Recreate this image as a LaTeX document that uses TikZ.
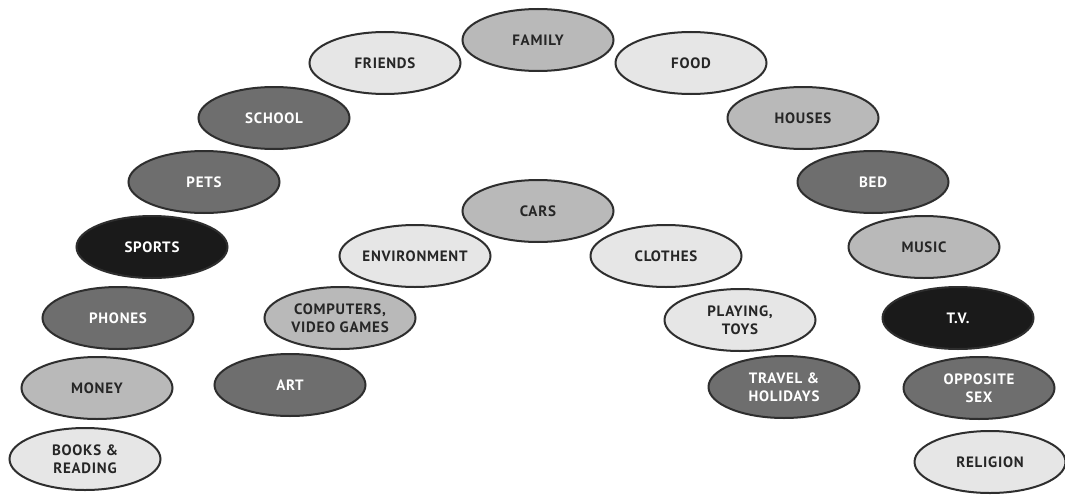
\documentclass[tikz,border=0pt]{standalone}
\usepackage{fontspec}
\setmainfont{PT Sans}[LetterSpace=5]
\usetikzlibrary{shapes.geometric}
\definecolor{cA}{HTML}{E6E6E6}
\definecolor{cB}{HTML}{B9B9B9}
\definecolor{cC}{HTML}{6E6E6E}
\definecolor{cD}{HTML}{1A1A1A}
\definecolor{edge}{HTML}{2E2E2E}
\tikzset{
  bub/.style={ellipse, draw=edge, line width=2pt, minimum width=151pt, minimum height=62pt,
    inner sep=0pt, align=center, font=\fontsize{15}{18}\selectfont\bfseries},
  lightb/.style={bub, fill=cA, text=black!85},
  midb/.style={bub, fill=cB, text=black!85},
  darkb/.style={bub, fill=cC, text=white},
  blackb/.style={bub, fill=cD, text=white}
}
\begin{document}
\begin{tikzpicture}[x=1pt,y=-1pt]
\useasboundingbox (0,0) rectangle (1065,495);
\node[midb]   (family)  at (538,40)  {FAMILY};
\node[lightb] (friends) at (385,63)  {FRIENDS};
\node[lightb] (food)    at (691,63)  {FOOD};
\node[darkb]  (school)  at (274,118) {SCHOOL};
\node[midb]   (houses)  at (803,118) {HOUSES};
\node[darkb]  (pets)    at (204,182) {PETS};
\node[darkb]  (bed)     at (873,182) {BED};
\node[blackb] (sports)  at (152,247) {SPORTS};
\node[midb]   (music)   at (924,247) {MUSIC};
\node[darkb]  (phones)  at (118,318) {PHONES};
\node[blackb] (tv)      at (958,318) {T.V.};
\node[midb]   (money)   at (97,388)  {MONEY};
\node[darkb]  (opp)     at (979,388) {OPPOSITE\\SEX};
\node[lightb] (books)   at (85,459)  {BOOKS \&\\READING};
\node[lightb] (relig)   at (990,462) {RELIGION};
\node[midb]   (cars)    at (538,211) {CARS};
\node[lightb] (env)     at (415,256) {ENVIRONMENT};
\node[lightb] (clothes) at (666,256) {CLOTHES};
\node[midb]   (comp)    at (340,318) {COMPUTERS,\\VIDEO GAMES};
\node[lightb] (play)    at (740,320) {PLAYING,\\TOYS};
\node[darkb]  (art)     at (290,385) {ART};
\node[darkb]  (travel)  at (784,387) {TRAVEL \&\\HOLIDAYS};
\end{tikzpicture}
\end{document}
